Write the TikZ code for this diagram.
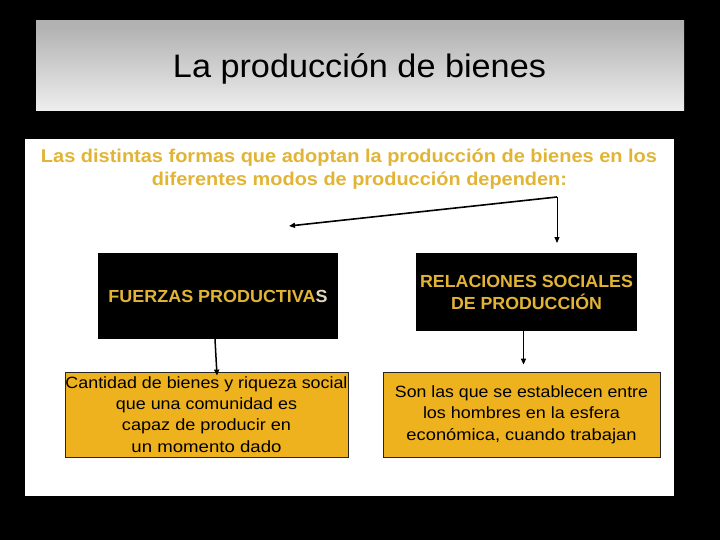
\documentclass[tikz,border=0pt]{standalone}
\usepackage{graphicx}
\usepackage{fontspec}
\setmainfont{Liberation Sans}
\usetikzlibrary{arrows.meta}
\definecolor{goldtxt}{RGB}{226,180,54}
\definecolor{goldfill}{RGB}{238,178,30}
\definecolor{tgray}{RGB}{178,178,178}
\definecolor{paleS}{RGB}{225,215,190}
\newcommand{\fitw}[2]{\resizebox{#1}{\height}{#2}}
\pgfdeclareverticalshading{titleshade}{100bp}{color(0bp)=(white); color(12bp)=(white); color(72bp)=(tgray); color(100bp)=(tgray)}
\tikzset{
  blackbox/.style={draw=none, fill=black, text=goldtxt, inner sep=0pt, align=center,
    font=\fontsize{17.5}{22}\selectfont\bfseries},
  goldbox/.style={draw=black!85, line width=0.8pt, fill=goldfill, text=black, inner sep=0pt, align=center,
    font=\fontsize{16.3}{21.3}\selectfont},
  headline/.style={text=goldtxt, inner sep=0pt, anchor=base, font=\fontsize{18.5}{20}\selectfont\bfseries},
  arr/.style={-{Triangle[length=6pt,width=5pt]}, black}
}
\begin{document}
\begin{tikzpicture}[x=1pt,y=-1pt]
\useasboundingbox (0,0) rectangle (720,540);
\fill[black] (0,0) rectangle (720,540);
% title band
\shade[shading=titleshade] (36,21) rectangle (684,111);
\node[inner sep=0pt, anchor=base, font=\fontsize{32.5}{36}\selectfont] (title) at (359.5,77.3) {\fitw{373pt}{La producción de bienes}};
% white panel
\fill[white] (25,139) rectangle (674,496);
% heading
\node[headline] (h1) at (349,162.5) {\fitw{616pt}{Las distintas formas que adoptan la producción de bienes en los}};
\node[headline] (h2) at (359.5,186) {\fitw{415pt}{diferentes modos de producción dependen:}};
\coordinate (s) at (557,197);
\coordinate (a1) at (289,226);
\coordinate (a2) at (557,243);
\draw[arr, line width=1.6pt] (s) -- (a1);
\draw[arr, line width=1pt] (s) -- (a2);
% black boxes
\node[blackbox, minimum width=240pt, minimum height=86pt] (fp) at (218,296)
  {\fitw{219pt}{FUERZAS PRODUCTIVA\textcolor{paleS}{S}}};
\node[blackbox, minimum width=221pt, minimum height=78pt] (rs) at (526.5,292)
  {\fitw{213pt}{RELACIONES SOCIALES}\\ \fitw{151pt}{DE PRODUCCIÓN}};
% gold boxes
\node[goldbox, minimum width=283pt, minimum height=85pt] (g1) at (206.5,414.5)
  {\fitw{282pt}{Cantidad de bienes y riqueza social}\\ \fitw{181pt}{que una comunidad es}\\ \fitw{169pt}{capaz de producir en}\\ \fitw{150pt}{un momento dado}};
\node[goldbox, minimum width=277pt, minimum height=85pt] (g2) at (521.5,414.5)
  {\fitw{253pt}{Son las que se establecen entre}\\ \fitw{197pt}{los hombres en la esfera}\\ \fitw{230pt}{económica, cuando trabajan}};
% connectors
\draw[arr, line width=1.5pt] ([xshift=-3pt]fp.south) -- ([xshift=10.5pt,yshift=-4pt]g1.north);
\draw[arr, line width=1.2pt] ([xshift=-3pt]rs.south) -- ([xshift=2pt,yshift=7pt]g2.north);
\end{tikzpicture}
\end{document}
